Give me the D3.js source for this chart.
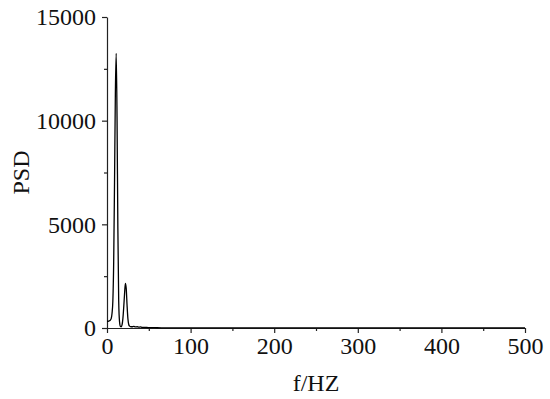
<!DOCTYPE html>
<html>
<head>
<meta charset="utf-8">
<script src="https://cdn.jsdelivr.net/npm/d3@7"></script>
<style>
  html, body { margin: 0; padding: 0; background: #fff; }
  svg text { font-family: "Liberation Serif", "Times New Roman", serif; fill: #111; }
</style>
</head>
<body>
<svg id="chart" width="550" height="399"></svg>
<script>
// Data
const freq = [0,1,2,3,4,5,6,7,8,9,10,11,12,13,14,15,16,17,18,19,20,21,22,23,24,25,26,27,28,30,32,34,36,38,40,42,45,48,50,55,60,70,80,90,100,150,200,250,300,350,400,450,500];
const psd  = [320,325,335,350,380,450,700,1300,3200,7000,11300,13250,10200,4800,1300,300,80,60,150,450,1000,1650,2150,1900,1100,450,170,90,70,60,80,50,60,40,55,30,30,25,20,15,12,10,8,6,5,4,3,3,2,2,2,2,2];
const xTicks = [0,100,200,300,400,500];
const xMinor = [50,150,250,350,450];
const yTicks = [0,5000,10000,15000];
const yMinor = [2500,7500,12500];
const xLabel = "f/HZ";
const yLabel = "PSD";

const svg = d3.select("#chart");
const mLeft = 107, mRight = 525, mTop = 17, mBottom = 328;

const x = d3.scaleLinear().domain([0, 500]).range([mLeft, mRight]);
const y = d3.scaleLinear().domain([0, 15000]).range([mBottom, mTop]);

// x axis
const gx = svg.append("g").attr("transform", `translate(0,${mBottom})`);
gx.append("g").call(d3.axisBottom(x).tickValues(xMinor).tickSize(3).tickFormat(""))
  .call(g => g.select(".domain").remove());
gx.append("g").call(d3.axisBottom(x).tickValues(xTicks).tickSize(5).tickSizeOuter(0).tickPadding(4).tickFormat(d3.format("d")));
gx.selectAll("text").attr("font-size", 24).attr("font-family", "Liberation Serif");
gx.selectAll("line, path").attr("stroke", "#222").attr("stroke-width", 1.2);

// y axis
const gy = svg.append("g").attr("transform", `translate(${mLeft},0)`);
gy.append("g").call(d3.axisLeft(y).tickValues(yMinor).tickSize(3).tickFormat(""))
  .call(g => g.select(".domain").remove());
gy.append("g").call(d3.axisLeft(y).tickValues(yTicks).tickSize(5).tickSizeOuter(0).tickPadding(6).tickFormat(d3.format("d")));
gy.selectAll("text").attr("font-size", 24).attr("font-family", "Liberation Serif");
gy.selectAll("line, path").attr("stroke", "#222").attr("stroke-width", 1.2);

// line
const line = d3.line().x((d, i) => x(freq[i])).y(d => y(d)).curve(d3.curveMonotoneX);
svg.append("path")
  .datum(psd)
  .attr("fill", "none")
  .attr("stroke", "#000")
  .attr("stroke-width", 1.3)
  .attr("d", line);

// axis titles
svg.append("text")
  .attr("x", (mLeft + mRight) / 2)
  .attr("y", 391)
  .attr("text-anchor", "middle")
  .attr("font-size", 24)
  .text(xLabel);

svg.append("text")
  .attr("transform", `translate(29,${(mTop + mBottom) / 2}) rotate(-90)`)
  .attr("text-anchor", "middle")
  .attr("font-size", 24)
  .text(yLabel);
</script>
</body>
</html>
